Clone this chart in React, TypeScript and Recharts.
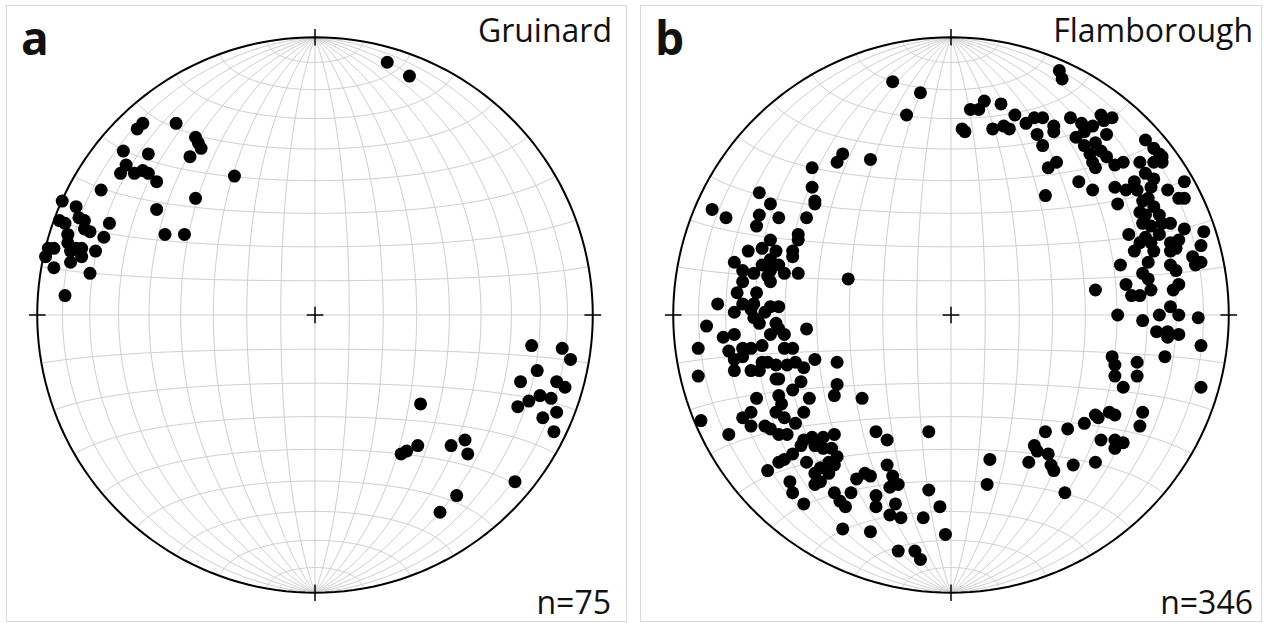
import { ScatterChart, Scatter, XAxis, YAxis } from "recharts";

// pole positions on the net, in % of the primitive radius (x = east, y = north)
const gruinardPoles: [number, number][] = [
  [-62, 69], [-64, 67], [-50, 69], [-43, 64], [-42, 62], [-41, 60], [-45, 57], [-69, 59],
  [-60, 58], [-68, 54], [-70, 51], [-65, 51], [-62, 52], [-60, 51], [-57, 48], [-29, 50],
  [-77, 45], [-43, 42], [-57, 38], [-91, 41], [-86, 39], [-92, 34], [-90, 33], [-85, 35],
  [-83, 34], [-74, 33], [-89, 29], [-83, 31], [-81, 30], [-76, 28], [-54, 29], [-47, 29],
  [-96, 24], [-94, 24], [-97, 21], [-89, 26], [-86, 24], [-84, 24], [-88, 23], [-84, 21],
  [-79, 23], [-88, 19], [-94, 17], [-81, 15], [-90, 7], [26, 91], [34, 86],
  [78, -11], [89, -12], [92, -16], [80, -20], [74, -24], [87, -24], [90, -26], [81, -29],
  [85, -30], [77, -31], [73, -33], [87, -35], [82, -37], [86, -42], [38, -32], [54, -45],
  [49, -47], [55, -50], [37, -47], [33, -49], [31, -50], [72, -60], [51, -65], [45, -71],
];

const flamboroughPoles: [number, number][] = [
  // west limb
  [-50, 53], [-50, 46], [-49, 41], [-49, 40], [-69, 44], [-65, 40], [-86, 38], [-81, 35],
  [-69, 36], [-62, 35], [-52, 35], [-70, 32], [-55, 29], [-55, 27], [-65, 27], [-73, 23],
  [-68, 24], [-63, 23], [-57, 23], [-57, 21], [-78, 19], [-65, 20], [-68, 18], [-62, 18],
  [-75, 16], [-71, 15], [-65, 16], [-60, 15], [-55, 15], [-75, 12], [-66, 14], [-65, 12],
  [-37, 13], [-77, 8], [-70, 8], [-84, 4], [-75, 4], [-71, 4], [-65, 3], [-62, 3],
  [-78, 1], [-72, 2], [-67, 1], [-71, -1], [-69, -3], [-88, -4], [-63, -3], [-52, -5],
  [-62, -5], [-60, -7], [-82, -8], [-78, -7], [-65, -7], [-91, -12], [-68, -11], [-75, -12],
  [-72, -12], [-80, -13], [-60, -12], [-57, -12], [-78, -16], [-75, -15], [-49, -16], [-41, -17],
  [-68, -17], [-66, -17], [-63, -18], [-59, -18], [-56, -17], [-53, -19], [-78, -20], [-72, -20],
  [-69, -20], [-91, -22], [-62, -23], [-63, -23], [-54, -24],
  // south-west arc
  [-41, -25], [-42, -29], [-57, -27], [-32, -30], [-70, -30], [-62, -29], [-61, -32], [-51, -30],
  [-90, -38], [-72, -35], [-75, -37], [-63, -35], [-60, -37], [-53, -35], [-72, -40], [-67, -40],
  [-65, -41], [-56, -39], [-80, -43], [-62, -43], [-59, -43], [-27, -42], [-8, -42], [-53, -45],
  [-50, -44], [-46, -44], [-42, -43], [-23, -45], [-54, -47], [-49, -47], [-46, -48], [-43, -48],
  [-57, -50], [-60, -52], [-62, -53], [-41, -51], [-44, -53], [-52, -53], [-42, -54], [-23, -54],
  [-66, -56], [-49, -57], [-47, -55], [-44, -57], [-31, -57], [-34, -59], [-29, -58], [-21, -58],
  [-58, -60], [-19, -61], [-47, -60], [-49, -61], [-22, -62], [-8, -63], [-57, -64], [-42, -64],
  [-36, -64], [-27, -65], [-53, -68], [-40, -67], [-38, -69], [-27, -69], [-20, -68], [-4, -69],
  [-22, -72], [-18, -73], [-10, -73], [-39, -77], [-29, -78], [-2, -79], [-19, -85], [-13, -85],
  [-11, -88],
  // north arc
  [39, 88], [40, 85], [-21, 84], [-11, 80], [-16, 72], [7, 74], [10, 74], [12, 77],
  [18, 76], [23, 72], [4, 67], [5, 66], [15, 67], [19, 68], [21, 67], [27, 69],
  [30, 71], [31, 65], [-39, 58], [-41, 55], [-29, 56],
  // east limb
  [33, 71], [37, 68], [37, 66], [33, 61], [43, 71], [47, 69], [51, 68], [54, 72],
  [55, 70], [58, 71], [45, 64], [48, 66], [56, 65], [48, 61], [50, 58], [52, 62],
  [54, 59], [56, 57], [70, 63], [73, 60], [75, 58], [76, 57], [76, 55], [73, 55],
  [51, 55], [52, 53], [59, 54], [62, 55], [68, 55], [38, 55], [35, 53], [46, 48],
  [51, 45], [59, 46], [63, 45], [66, 48], [67, 45], [70, 51], [73, 49], [72, 46],
  [78, 45], [84, 48], [82, 42], [84, 42], [60, 40], [34, 43], [69, 41], [71, 42],
  [73, 39], [68, 37], [70, 36], [75, 36], [76, 33], [79, 33], [69, 33], [72, 32],
  [75, 29], [64, 29], [70, 28], [68, 26], [72, 26], [73, 23], [66, 23], [84, 31],
  [91, 30], [82, 27], [79, 26], [79, 23], [81, 24], [90, 25], [87, 21], [90, 19],
  [88, 18], [61, 18], [71, 19], [79, 18], [81, 16], [69, 15], [71, 13], [63, 11],
  [52, 9], [72, 9], [82, 11], [80, 9],
  [65, 7], [68, 7], [79, 3], [75, 0], [82, 0], [89, -1], [60, 0], [69, -2],
  [74, -6], [78, -6], [78, -8], [82, -7], [90, -11], [77, -15], [58, -15], [59, -18],
  [67, -17], [59, -22], [67, -22], [62, -26], [90, -26],
  // south-east arc
  [52, -36], [53, -37], [57, -35], [59, -36], [69, -35], [68, -40], [48, -39], [42, -41],
  [34, -42], [54, -45], [59, -45], [62, -46], [59, -48], [30, -47], [31, -49], [35, -50],
  [14, -52], [28, -53], [36, -54], [37, -56], [44, -54], [52, -53], [13, -61], [41, -64],
];

const DOMAIN = 108;      // axis half-range, in the same units as the poles
const PLOT = 600;        // px of the chart, so the primitive (100) is ~278px
const GRID_STEP = 10;    // degrees between net lines
const rad = Math.PI / 180;

// Schmidt (equal-area) net, equatorial aspect
function project(lon: number, lat: number) {
  const k = Math.sqrt(2 / (1 + Math.cos(lat * rad) * Math.cos(lon * rad)));
  return {
    x: (100 * k * Math.cos(lat * rad) * Math.sin(lon * rad)) / Math.SQRT2,
    y: (100 * k * Math.sin(lat * rad)) / Math.SQRT2,
  };
}

function range(a: number, b: number, s: number) {
  const out: number[] = [];
  for (let v = a; v <= b + 1e-9; v += s) out.push(v);
  return out;
}

const netLines: { x: number; y: number }[][] = [
  ...range(-90 + GRID_STEP, 90 - GRID_STEP, GRID_STEP).map((lon) =>
    range(-90, 90, 2).map((lat) => project(lon, lat))
  ),
  ...range(-90 + GRID_STEP, 90 - GRID_STEP, GRID_STEP).map((lat) =>
    range(-90, 90, 2).map((lon) => project(lon, lat))
  ),
];

const primitive = range(0, 360, 2).map((a) => ({ x: 100 * Math.cos(a * rad), y: 100 * Math.sin(a * rad) }));
const marks = [
  [{ x: -3, y: 0 }, { x: 3, y: 0 }],
  [{ x: 0, y: -3 }, { x: 0, y: 3 }],
  [{ x: 97, y: 0 }, { x: 103, y: 0 }],
  [{ x: -103, y: 0 }, { x: -97, y: 0 }],
  [{ x: 0, y: 97 }, { x: 0, y: 103 }],
  [{ x: 0, y: -103 }, { x: 0, y: -97 }],
];

const noShape = () => <g />;
const poleDot = (p: any) => <circle cx={p.cx} cy={p.cy} r={6.5} fill="#000" />;

function Stereonet({ poles, left, top }: { poles: [number, number][]; left: number; top: number }) {
  const data = poles.map(([x, y]) => ({ x, y }));
  return (
    <div style={{ position: "absolute", left, top }}>
      <ScatterChart width={PLOT} height={PLOT} margin={{ top: 0, right: 0, bottom: 0, left: 0 }}>
        <XAxis type="number" dataKey="x" domain={[-DOMAIN, DOMAIN]} hide />
        <YAxis type="number" dataKey="y" domain={[-DOMAIN, DOMAIN]} hide />
        {netLines.map((pts, i) => (
          <Scatter
            key={"n" + i}
            data={pts}
            line={{ stroke: "#cfcfcf", strokeWidth: 1 }}
            shape={noShape}
            isAnimationActive={false}
          />
        ))}
        <Scatter data={primitive} line={{ stroke: "#000", strokeWidth: 2 }} shape={noShape} isAnimationActive={false} />
        {marks.map((pts, i) => (
          <Scatter key={"m" + i} data={pts} line={{ stroke: "#000", strokeWidth: 1.5 }} shape={noShape} isAnimationActive={false} />
        ))}
        <Scatter data={data} shape={poleDot} isAnimationActive={false} />
      </ScatterChart>
    </div>
  );
}

const font = "'Open Sans', sans-serif";

export default function App() {
  return (
    <div style={{ position: "relative", width: 1267, height: 623, background: "#fff", overflow: "hidden" }}>
      <style>{"body{margin:0}"}</style>
      <div style={{ position: "absolute", left: 6, top: 5, width: 619, height: 615, border: "1px solid #d9d9d9" }} />
      <div style={{ position: "absolute", left: 640, top: 5, width: 620, height: 615, border: "1px solid #d9d9d9" }} />
      <Stereonet poles={gruinardPoles} left={315 - PLOT / 2} top={315 - PLOT / 2} />
      <Stereonet poles={flamboroughPoles} left={951 - PLOT / 2} top={315 - PLOT / 2} />
      <svg width={1267} height={623} style={{ position: "absolute", left: 0, top: 0, pointerEvents: "none" }}>
        <g fontFamily={font} fill="#111">
          <text x={21} y={55} fontSize={46} fontWeight={700}>a</text>
          <text x={612} y={42} fontSize={32} textAnchor="end">Gruinard</text>
          <text x={611} y={614} fontSize={32} textAnchor="end">n=75</text>
          <text x={655} y={55} fontSize={46} fontWeight={700}>b</text>
          <text x={1253} y={42} fontSize={32} textAnchor="end">Flamborough</text>
          <text x={1253} y={614} fontSize={32} textAnchor="end">n=346</text>
        </g>
      </svg>
    </div>
  );
}
